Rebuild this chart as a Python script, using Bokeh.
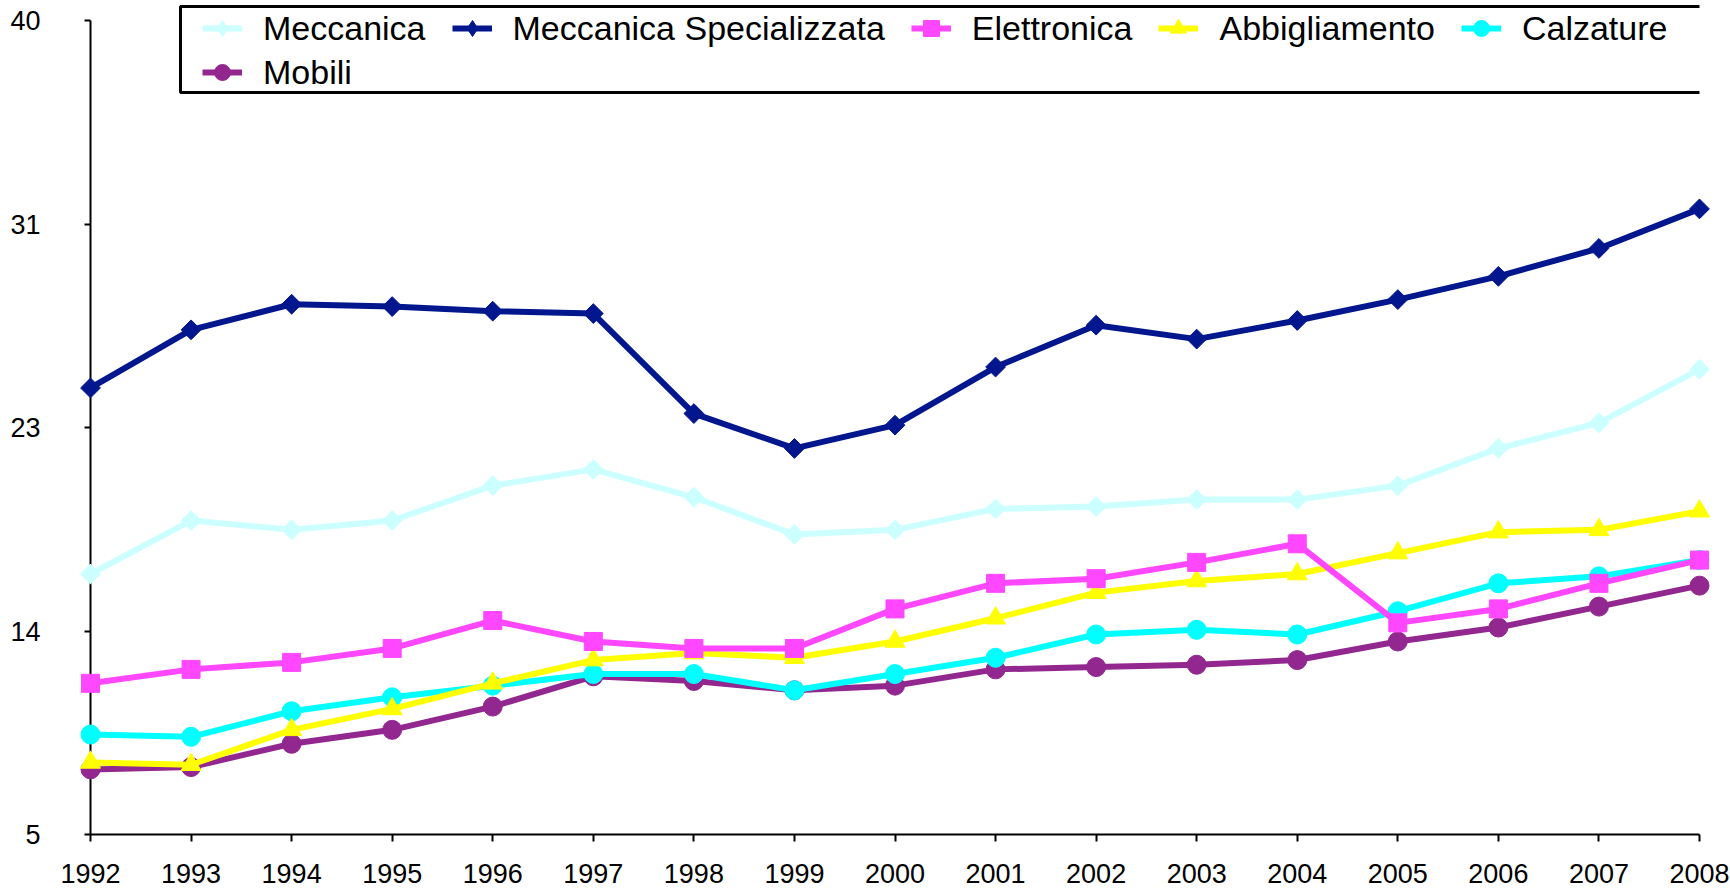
import math
from bokeh.plotting import figure
from bokeh.models import Range1d, FixedTicker, Legend, LegendItem, BoxAnnotation
from bokeh.embed import file_html
from bokeh.resources import INLINE

years = list(range(1992, 2009))

meccanica = [16.2, 18.5, 18.1, 18.5, 20.0, 20.7, 19.5, 17.9, 18.1, 19.0, 19.1, 19.4, 19.4, 20.0, 21.6, 22.7, 25.0]
meccanica_spec = [24.2, 26.7, 27.8, 27.7, 27.5, 27.4, 23.1, 21.6, 22.6, 25.1, 26.9, 26.3, 27.1, 28.0, 29.0, 30.2, 31.9]
elettronica = [11.5, 12.1, 12.4, 13.0, 14.2, 13.3, 13.0, 13.0, 14.7, 15.8, 16.0, 16.7, 17.5, 14.1, 14.7, 15.8, 16.8]
abbigliamento = [8.1, 8.0, 9.5, 10.4, 11.5, 12.5, 12.8, 12.6, 13.3, 14.3, 15.4, 15.9, 16.2, 17.1, 18.0, 18.1, 18.9]
calzature = [9.3, 9.2, 10.3, 10.9, 11.4, 11.9, 11.9, 11.2, 11.9, 12.6, 13.6, 13.8, 13.6, 14.6, 15.8, 16.1, 16.8]
mobili = [7.8, 7.9, 8.9, 9.5, 10.5, 11.8, 11.6, 11.2, 11.4, 12.1, 12.2, 12.3, 12.5, 13.3, 13.9, 14.8, 15.7]

y_ticks = [5, 13.75, 22.5, 31.25, 40]
y_tick_labels = ["5", "14", "23", "31", "40"]

# name, values, colour, marker, size, angle, legend marker
series = [
    ("Meccanica", meccanica, "#CCFFFF", "square", 14, math.pi / 4, "diamond"),
    ("Meccanica Specializzata", meccanica_spec, "#02168E", "square", 14, math.pi / 4, "diamond"),
    ("Elettronica", elettronica, "#FF47FF", "square", 18, 0, None),
    ("Abbigliamento", abbigliamento, "#FFFF00", "triangle", 20, 0, None),
    ("Calzature", calzature, "#00FFFF", "circle", 19, 0, None),
    ("Mobili", mobili, "#92278F", "circle", 19, 0, None),
]

FONT = "Liberation Sans"

p = figure(width=1729, height=893, output_backend="svg", toolbar_location=None,
           x_range=Range1d(1992, 2008), y_range=Range1d(5, 40 + 16 * 35 / 814),
           min_border=0, min_border_left=90, min_border_right=30,
           min_border_top=4, min_border_bottom=59)
p.outline_line_color = None
p.grid.visible = False
p.background_fill_color = "white"

# axes
p.xaxis.ticker = FixedTicker(ticks=years)
p.xaxis.bounds = (years[0], years[-1])
p.xaxis.major_tick_in = 0
p.xaxis.major_tick_out = 7
p.xaxis.minor_tick_line_color = None
p.xaxis.major_label_standoff = 22

p.yaxis.ticker = FixedTicker(ticks=y_ticks)
p.yaxis.major_label_overrides = {t: l for t, l in zip(y_ticks, y_tick_labels)}
p.yaxis.bounds = (y_ticks[0], y_ticks[-1])
p.yaxis.major_tick_in = 0
p.yaxis.major_tick_out = 6
p.yaxis.minor_tick_line_color = None
p.yaxis.major_label_standoff = 44

for ax in (p.xaxis, p.yaxis):
    ax.axis_line_color = "black"
    ax.axis_line_width = 2
    ax.major_tick_line_color = "black"
    ax.major_tick_line_width = 2
    ax.major_label_text_font = FONT
    ax.major_label_text_font_size = "27px"
    ax.major_label_text_color = "black"

items = {}
for name, vals, color, marker, size, angle, leg_marker in reversed(series):
    lr = p.line(years, vals, line_color=color, line_width=6, level="overlay")
    sr = p.scatter(years, vals, marker=marker, size=size, angle=angle,
                   fill_color=color, line_color=color, line_width=1, level="overlay")
    rends = [lr, sr]
    if leg_marker:
        # smaller diamond hidden inside the rotated square; used for the legend glyph
        dr = p.scatter(years, vals, marker=leg_marker, size=size, fill_color=color,
                       line_color=color, line_width=1, level="overlay")
        rends = [lr, dr]
    items[name] = LegendItem(label=name, renderers=rends)

box = BoxAnnotation(left=90, right=1620, bottom=742, top=828,
                    left_units="screen", right_units="screen",
                    top_units="screen", bottom_units="screen",
                    fill_color="white", fill_alpha=1.0,
                    line_color="black", line_alpha=1.0, line_width=3)
p.add_layout(box)

legend_kw = dict(orientation="horizontal", glyph_width=40, glyph_height=42,
                 label_height=42, label_standoff=21, spacing=26, padding=0, margin=0,
                 border_line_color=None, background_fill_alpha=0,
                 label_text_font=FONT, label_text_font_size="34px",
                 label_text_color="black")

row1 = [items[s[0]] for s in series[:5]]
row2 = [items[s[0]] for s in series[5:]]
leg1 = Legend(items=row1, location=(112, 785), **legend_kw)
leg2 = Legend(items=row2, location=(112, 741), **legend_kw)
p.add_layout(leg1, "center")
p.add_layout(leg2, "center")

open("out.html", "w").write(file_html(p, INLINE))
